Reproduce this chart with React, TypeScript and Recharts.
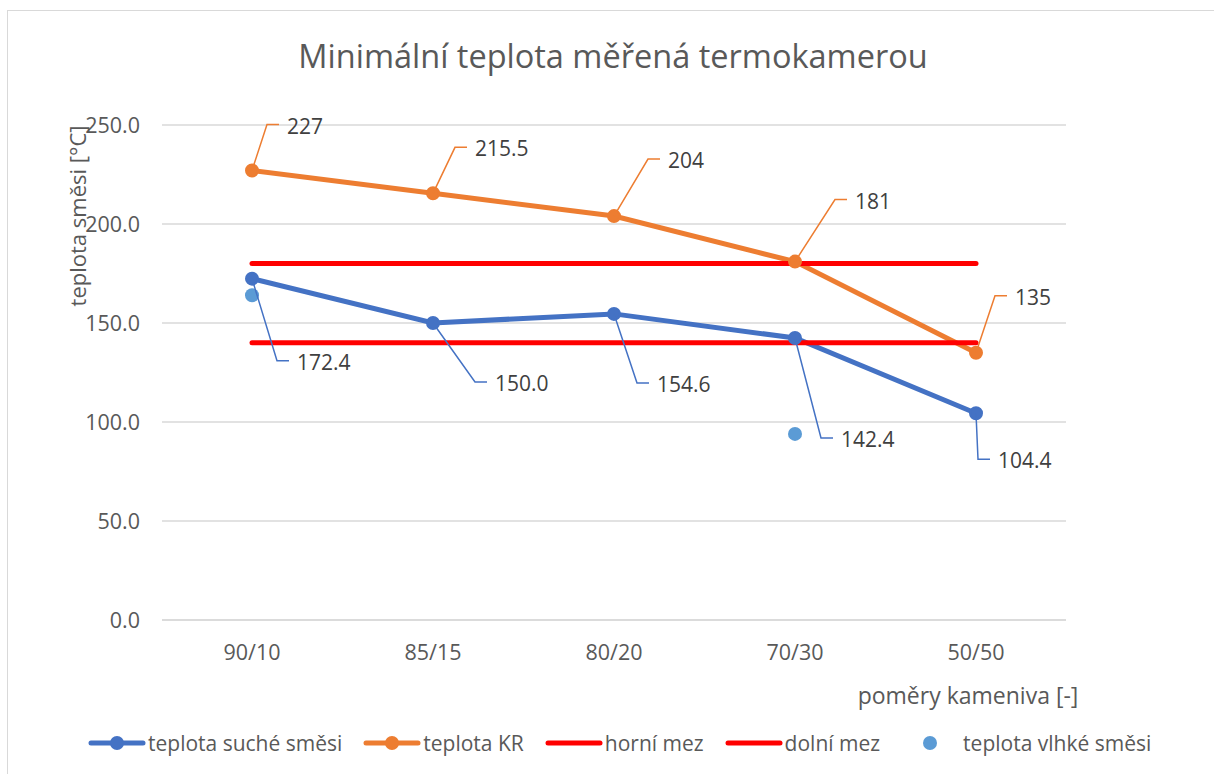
import React from "react";
import {
  ComposedChart,
  Line,
  XAxis,
  YAxis,
  CartesianGrid,
  Legend,
  LabelList,
} from "recharts";

// hodnoty
const categories = ["90/10", "85/15", "80/20", "70/30", "50/50"];
const drySeries = [172.4, 150.0, 154.6, 142.4, 104.4];
const krSeries = [227, 215.5, 204, 181, 135];
const upperLimit = [180, 180, 180, 180, 180];
const lowerLimit = [140, 140, 140, 140, 140];
const wetSeries = [164, null, null, 94, null];
const yTicks = [0, 50, 100, 150, 200, 250];

// posun popisků (ručně posunuté v Excelu)
const krLabelShift = [
  [15, -46],
  [22, -46],
  [34, -57],
  [40, -62],
  [19, -57],
];
const dryLabelShift = [
  [25, 82],
  [42, 59],
  [23, 69],
  [26, 100],
  [2, 46],
];

const data = categories.map((c, i) => ({
  name: c,
  dry: drySeries[i],
  kr: krSeries[i],
  upper: upperLimit[i],
  lower: lowerLimit[i],
  wet: wetSeries[i],
}));

const FONT = "'Open Sans', sans-serif";
const TEXT = "#595959";
const BLUE = "#4472C4";
const ORANGE = "#ED7D31";
const RED = "#FF0000";
const LIGHT_BLUE = "#5B9BD5";

const makeLabel =
  (shift: number[][], color: string, fmt: (v: number) => string) =>
  (props: any) => {
    const { x, y, value, index } = props;
    if (value == null) return null;
    const [dx, dy] = shift[index] || [20, -40];
    const ex = x + dx;
    const ey = y + dy;
    return (
      <g>
        <polyline
          points={`${x},${y} ${ex},${ey} ${ex + 12},${ey}`}
          fill="none"
          stroke={color}
          strokeWidth={1.5}
        />
        <text
          x={ex + 20}
          y={ey + 1}
          dominantBaseline="central"
          fontFamily={FONT}
          fontSize={21}
          fill="#404040"
        >
          {fmt(Number(value))}
        </text>
      </g>
    );
  };

const legendItems = [
  { label: "teplota suché směsi", color: BLUE, kind: "lineDot" },
  { label: "teplota KR", color: ORANGE, kind: "lineDot" },
  { label: "horní mez", color: RED, kind: "line" },
  { label: "dolní mez", color: RED, kind: "line" },
  { label: "teplota vlhké směsi", color: LIGHT_BLUE, kind: "dot" },
];

const LegendContent = () => (
  <div
    style={{
      display: "flex",
      alignItems: "center",
      paddingLeft: 88,
      fontFamily: FONT,
      fontSize: 21,
      color: TEXT,
    }}
  >
    {legendItems.map((it) => (
      <div
        key={it.label}
        style={{ display: "flex", alignItems: "center", marginRight: 21 }}
      >
        <svg width={58} height={16} style={{ marginRight: 2 }}>
          {it.kind !== "dot" && (
            <line
              x1={3}
              y1={8}
              x2={55}
              y2={8}
              stroke={it.color}
              strokeWidth={5}
              strokeLinecap="round"
            />
          )}
          {it.kind !== "line" && <circle cx={29} cy={8} r={7} fill={it.color} />}
        </svg>
        {it.kind === "dot" && <span style={{ width: 2 }} />}
        <span>{it.label}</span>
      </div>
    ))}
  </div>
);

export default function App() {
  return (
    <div
      style={{
        position: "absolute",
        left: 0,
        top: 0,
        width: 1214,
        height: 774,
        overflow: "hidden",
        background: "#fff",
        fontFamily: FONT,
      }}
    >
      <div
        style={{
          position: "absolute",
          left: 7,
          top: 10,
          width: 1220,
          height: 780,
          border: "1.5px solid #D9D9D9",
        }}
      />
      <div
        style={{
          position: "absolute",
          left: 0,
          top: 33,
          width: 1226,
          textAlign: "center",
          fontSize: 32.5,
          color: TEXT,
        }}
      >
        Minimální teplota měřená termokamerou
      </div>
      <div style={{ position: "absolute", left: 0, top: 0 }}>
        <ComposedChart
          width={1214}
          height={774}
          data={data}
          margin={{ top: 125, right: 148, bottom: 94, left: 102 }}
        >
          <CartesianGrid vertical={false} stroke="#D9D9D9" strokeWidth={1.5} />
          <XAxis
            dataKey="name"
            height={60}
            padding={{ left: 90, right: 90 }}
            axisLine={{ stroke: "#D9D9D9", strokeWidth: 1.5 }}
            tickLine={false}
            tickSize={0}
            tickMargin={25}
            tick={{ fill: TEXT, fontSize: 21.5, fontFamily: FONT }}
            label={{
              content: () => (
                <text
                  x={968}
                  y={695}
                  textAnchor="middle"
                  dominantBaseline="central"
                  fontFamily={FONT}
                  fontSize={23}
                  fill={TEXT}
                >
                  poměry kameniva [-]
                </text>
              ),
            }}
          />
          <YAxis
            width={60}
            domain={[0, 250]}
            ticks={yTicks}
            axisLine={false}
            tickLine={false}
            tickSize={0}
            tickMargin={22}
            tickFormatter={(v: number) => v.toFixed(1)}
            tick={{ fill: TEXT, fontSize: 21.5, fontFamily: FONT }}
            label={{
              content: () => (
                <text
                  x={77}
                  y={216}
                  textAnchor="middle"
                  dominantBaseline="central"
                  transform="rotate(-90, 77, 216)"
                  fontFamily={FONT}
                  fontSize={22}
                  fill={TEXT}
                >
                  teplota směsi [°C]
                </text>
              ),
            }}
          />
          <Line
            dataKey="wet"
            name="teplota vlhké směsi"
            stroke="none"
            dot={{ r: 7, fill: LIGHT_BLUE, stroke: LIGHT_BLUE, strokeWidth: 0 }}
            activeDot={false}
            isAnimationActive={false}
          />
          <Line
            dataKey="dry"
            name="teplota suché směsi"
            stroke={BLUE}
            strokeWidth={5}
            dot={{ r: 6, fill: BLUE, stroke: BLUE, strokeWidth: 2 }}
            activeDot={false}
            isAnimationActive={false}
          />
          <Line
            dataKey="kr"
            name="teplota KR"
            stroke={ORANGE}
            strokeWidth={5}
            dot={{ r: 6, fill: ORANGE, stroke: ORANGE, strokeWidth: 2 }}
            activeDot={false}
            isAnimationActive={false}
          />
          <Line
            dataKey="upper"
            name="horní mez"
            stroke={RED}
            strokeWidth={5}
            strokeLinecap="round"
            dot={false}
            activeDot={false}
            isAnimationActive={false}
          />
          <Line
            dataKey="lower"
            name="dolní mez"
            stroke={RED}
            strokeWidth={5}
            strokeLinecap="round"
            dot={false}
            activeDot={false}
            isAnimationActive={false}
          />
          <Line
            dataKey="dry"
            legendType="none"
            stroke="none"
            dot={false}
            activeDot={false}
            isAnimationActive={false}
          >
            <LabelList
              dataKey="dry"
              content={makeLabel(dryLabelShift, BLUE, (v) => v.toFixed(1))}
            />
          </Line>
          <Line
            dataKey="kr"
            legendType="none"
            stroke="none"
            dot={false}
            activeDot={false}
            isAnimationActive={false}
          >
            <LabelList
              dataKey="kr"
              content={makeLabel(krLabelShift, ORANGE, (v) => String(v))}
            />
          </Line>
          <Legend
            layout="horizontal"
            verticalAlign="middle"
            align="center"
            content={<LegendContent />}
            wrapperStyle={{ top: 729, left: 0, width: 1214 }}
          />
        </ComposedChart>
      </div>
    </div>
  );
}
